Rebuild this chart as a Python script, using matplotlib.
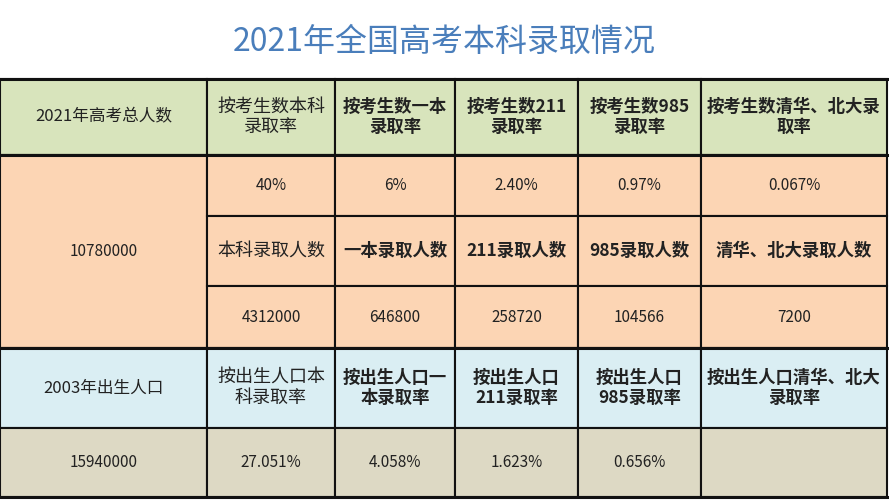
import matplotlib.pyplot as plt
from matplotlib.patches import Rectangle

plt.rcParams['font.family'] = ['Noto Sans CJK SC', 'DejaVu Sans']

# 表格内容
title = "2021年全国高考本科录取情况"
header_labels = ["2021年高考总人数", "按考生数本科\n录取率", "按考生数一本\n录取率",
                 "按考生数211\n录取率", "按考生数985\n录取率", "按考生数清华、北大录\n取率"]
exam_total = "10780000"
exam_rates = ["40%", "6%", "2.40%", "0.97%", "0.067%"]
admit_labels = ["本科录取人数", "一本录取人数", "211录取人数", "985录取人数", "清华、北大录取人数"]
admit_counts = ["4312000", "646800", "258720", "104566", "7200"]
birth_label = "2003年出生人口"
birth_rate_labels = ["按出生人口本\n科录取率", "按出生人口一\n本录取率", "按出生人口\n211录取率",
                     "按出生人口\n985录取率", "按出生人口清华、北大\n录取率"]
birth_total = "15940000"
birth_rates = ["27.051%", "4.058%", "1.623%", "0.656%", ""]

# 网格（像素）
col_x = [0, 207, 335, 455, 578, 701, 887]
row_y = [79, 155, 216, 286, 348, 428, 497]

green = "#d8e4bc"
orange = "#fcd5b4"
blue = "#daeef3"
tan = "#ddd9c4"

fig = plt.figure(figsize=(8.89, 5), dpi=100)
ax = fig.add_axes([0, 0, 1, 1])
ax.set_xlim(0, 889)
ax.set_ylim(500, 0)
ax.axis("off")


def cell(r0, r1, c0, c1, text, color, size=12.5, bold=False):
    x0, x1 = col_x[c0], col_x[c1]
    y0, y1 = row_y[r0], row_y[r1]
    ax.add_patch(Rectangle((x0, y0), x1 - x0, y1 - y0, facecolor=color,
                           edgecolor="#111111", linewidth=1.5))
    ax.text((x0 + x1) / 2, (y0 + y1) / 2, text, ha="center", va="center",
            fontsize=size, fontweight="bold" if bold else "normal",
            color="#222222", linespacing=1.15)


ax.text(444, 42, title, ha="center", va="center", fontsize=23, color="#4a7ebb")

# 表头
cell(0, 1, 0, 1, header_labels[0], green, size=12)
for i, lab in enumerate(header_labels[1:]):
    cell(0, 1, i + 1, i + 2, lab, green, size=13 if i == 0 else 12.5, bold=(i > 0))

# 考生部分
cell(1, 4, 0, 1, exam_total, orange, size=11)
for i in range(5):
    cell(1, 2, i + 1, i + 2, exam_rates[i], orange, size=11)
    cell(2, 3, i + 1, i + 2, admit_labels[i], orange, size=13 if i == 0 else 12.5, bold=(i > 0))
    cell(3, 4, i + 1, i + 2, admit_counts[i], orange, size=11)

# 出生人口部分
cell(4, 5, 0, 1, birth_label, blue, size=12)
cell(5, 6, 0, 1, birth_total, tan, size=11)
for i in range(5):
    cell(4, 5, i + 1, i + 2, birth_rate_labels[i], blue, size=13 if i == 0 else 12.5, bold=(i > 0))
    cell(5, 6, i + 1, i + 2, birth_rates[i], tan, size=11)

# 粗分隔线
for y in [row_y[0], row_y[1], row_y[4], row_y[6]]:
    ax.plot([0, col_x[-1]], [y, y], color="#111111", linewidth=2.2)

fig.savefig("out.png", dpi=100)
